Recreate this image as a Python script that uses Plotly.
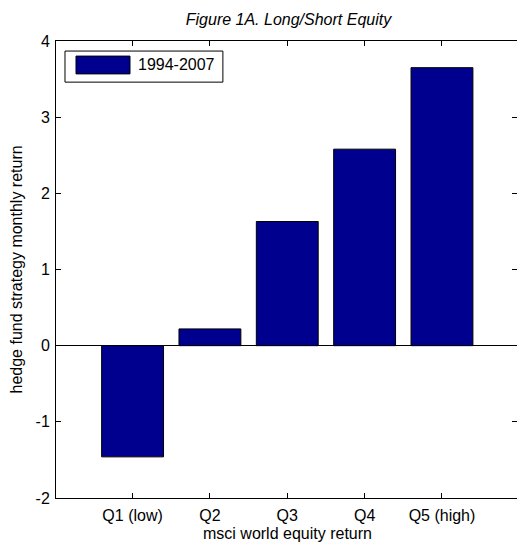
import plotly.graph_objects as go

# Quintiles of MSCI World equity return and the average monthly return
# of the long/short equity hedge fund strategy in each (1994-2007).
categories = ["Q1 (low)", "Q2", "Q3", "Q4", "Q5 (high)"]
returns = [-1.46, 0.22, 1.63, 2.58, 3.65]
series_name = "1994-2007"
y_ticks = [-2, -1, 0, 1, 2, 3, 4]
y_tick_labels = ["-2", "-1", "0", "1", "2", "3", "4"]

positions = list(range(1, len(categories) + 1))
bar_color = "#00008f"
font_family = "Liberation Sans, Arial, sans-serif"
x_range = [0.01, 5.97]
y_range = [-2, 4]

fig = go.Figure()
fig.add_trace(go.Bar(
    x=positions,
    y=returns,
    name=series_name,
    width=0.8,
    marker=dict(color=bar_color, line=dict(color="black", width=1)),
    showlegend=False,
))
# empty trace carrying the mirrored top/right tick axes
fig.add_trace(go.Scatter(x=[], y=[], xaxis="x2", yaxis="y2", showlegend=False))

axis_common = dict(
    showgrid=False,
    ticks="inside",
    ticklen=5,
    tickcolor="black",
    tickwidth=1,
    linecolor="black",
    linewidth=1,
    tickfont=dict(family=font_family, size=16, color="black"),
)

fig.update_layout(
    width=517,
    height=545,
    margin=dict(l=56, r=0, t=41, b=47),
    paper_bgcolor="white",
    plot_bgcolor="white",
    font=dict(family=font_family, size=16, color="black"),
    title=dict(
        text="Figure 1A. Long/Short Equity",
        font=dict(family=font_family, size=16, color="black", style="italic"),
        xref="container", x=0.558, xanchor="center",
        yref="container", y=1 - 19 / 545, yanchor="middle",
    ),
    xaxis=dict(
        axis_common,
        range=x_range,
        tickmode="array",
        tickvals=positions,
        ticktext=categories,
        ticklabelstandoff=3,
        showline=True,
        zeroline=False,
    ),
    yaxis=dict(
        axis_common,
        range=y_range,
        tickmode="array",
        tickvals=y_ticks,
        ticktext=y_tick_labels,
        ticklabelstandoff=2,
        showline=True,
        zeroline=True,
        zerolinecolor="black",
        zerolinewidth=1,
    ),
    xaxis2=dict(
        axis_common,
        overlaying="x",
        side="top",
        anchor="y2",
        range=x_range,
        tickmode="array",
        tickvals=positions,
        showticklabels=False,
        showline=True,
        zeroline=False,
    ),
    yaxis2=dict(
        axis_common,
        overlaying="y",
        side="right",
        anchor="x2",
        range=y_range,
        tickmode="array",
        tickvals=y_ticks,
        showticklabels=False,
        showline=False,
        zeroline=False,
    ),
)

# axis titles
fig.add_annotation(text="msci world equity return", xref="paper", yref="paper",
                   x=0.503, y=-0.0766, xanchor="center", yanchor="middle",
                   showarrow=False, font=dict(family=font_family, size=16, color="black"))
fig.add_annotation(text="hedge fund strategy monthly return", xref="paper", yref="paper",
                   x=-0.0846, y=0.5, xanchor="center", yanchor="middle", textangle=-90,
                   showarrow=False, font=dict(family=font_family, size=16, color="black"))

# legend box with a wide swatch for the single series
fig.add_shape(type="rect", xref="paper", yref="paper",
              x0=0.0195, x1=0.362, y0=0.910, y1=0.978,
              line=dict(color="black", width=1), fillcolor="white")
fig.add_shape(type="rect", xref="paper", yref="paper",
              x0=0.0434, x1=0.1605, y0=0.928, y1=0.967,
              line=dict(color="black", width=1), fillcolor=bar_color)
fig.add_annotation(text=series_name, xref="paper", yref="paper",
                   x=0.174, y=0.9475, xanchor="left", yanchor="middle",
                   showarrow=False, font=dict(family=font_family, size=16, color="black"))

fig.write_html("out.html")
